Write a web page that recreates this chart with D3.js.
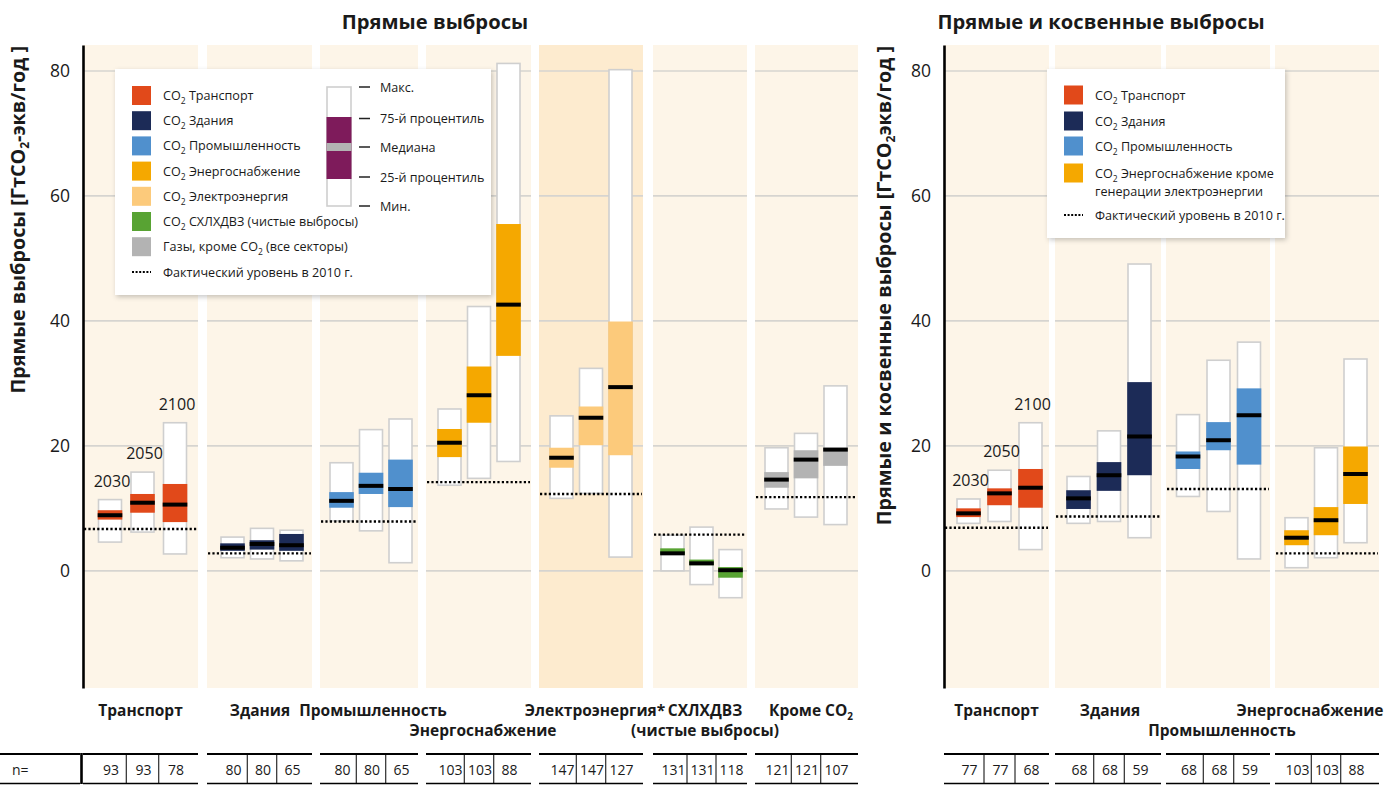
<!DOCTYPE html>
<html>
<head>
<meta charset="utf-8">
<script src="https://cdn.jsdelivr.net/npm/d3@7"></script>
<style>
  body { margin: 0; background: #fff; }
  svg { display: block; }
  text { font-family: "Open Sans", "Noto Sans", sans-serif; fill: #1a1a1a; }
</style>
</head>
<body>
<svg id="chart" width="1396" height="785"></svg>
<script>
// ---------- data ----------
const years = ["2030", "2050", "2100"];
const yTicks = [0, 20, 40, 60, 80];

// Прямые выбросы, ГтCO2-экв/год
const directSectors = ["Транспорт", "Здания", "Промышленность", "Энергоснабжение",
                       "Электроэнергия", "СХЛХДВЗ", "Кроме CO2"];
const directMin = [[4.6, 6.2, 2.7], [2.1, 1.9, 1.6], [8.0, 6.4, 1.3], [13.7, 14.8, 17.5],
                   [11.6, 12.4, 2.2], [0.0, -2.2, -4.3], [9.9, 8.6, 7.4]];
const directQ1 = [[8.2, 9.3, 7.8], [3.2, 3.4, 3.2], [10.1, 12.3, 10.2], [18.2, 23.7, 34.4],
                  [16.5, 20.1, 18.5], [2.6, 0.9, -1.1], [13.3, 14.8, 16.8]];
const directMedian = [[8.9, 10.9, 10.6], [3.7, 4.3, 4.1], [11.2, 13.6, 13.1], [20.5, 28.1, 42.6],
                      [18.1, 24.5, 29.4], [2.8, 1.2, 0.1], [14.6, 17.8, 19.4]];
const directQ3 = [[9.7, 12.3, 13.9], [4.4, 4.9, 5.9], [12.6, 15.7, 17.8], [22.7, 32.7, 55.5],
                  [19.7, 26.3, 39.9], [3.6, 1.8, 0.6], [15.8, 19.3, 19.7]];
const directMax = [[11.4, 15.8, 23.7], [5.4, 6.8, 6.5], [17.3, 22.6, 24.3], [25.9, 42.3, 81.2],
                   [24.8, 32.4, 80.2], [5.7, 7.0, 3.4], [19.7, 22.0, 29.6]];
const direct2010 = [6.7, 2.8, 7.9, 14.2, 12.3, 5.8, 11.8];
const directN = [[93, 93, 78], [80, 80, 65], [80, 80, 65], [103, 103, 88],
                 [147, 147, 127], [131, 131, 118], [121, 121, 107]];

// Прямые и косвенные выбросы
const indirectSectors = ["Транспорт", "Здания", "Промышленность", "Энергоснабжение"];
const indirectMin = [[7.6, 7.9, 3.4], [7.6, 7.9, 5.3], [11.9, 9.5, 1.9], [0.5, 2.1, 4.5]];
const indirectQ1 = [[8.6, 10.5, 10.1], [9.9, 12.8, 15.3], [16.3, 19.3, 17.0], [4.1, 5.7, 10.7]];
const indirectMedian = [[9.2, 12.4, 13.3], [11.6, 15.3, 21.5], [18.3, 20.9, 24.9], [5.3, 8.1, 15.5]];
const indirectQ3 = [[10.0, 13.2, 16.3], [12.9, 17.4, 30.2], [19.1, 23.8, 29.2], [6.5, 10.2, 19.9]];
const indirectMax = [[11.5, 16.1, 23.7], [15.1, 22.4, 49.1], [25.0, 33.7, 36.6], [8.5, 19.7, 33.9]];
const indirect2010 = [6.9, 8.7, 13.1, 2.8];
const indirectN = [[77, 77, 68], [68, 68, 59], [68, 68, 59], [103, 103, 88]];

// ---------- styling & layout ----------
const directColors = ["#e1491a", "#1c2b57", "#5090cd", "#f5a800", "#fcca7b", "#58a333", "#b3b3b3"];
const indirectColors = ["#e1491a", "#1c2b57", "#5090cd", "#f5a800"];

// sub-panel extents (x0..x1), box-group centre and spacing between years
const directLayout = [
  { x0: 83,  x1: 198, c: 142.5, step: 32.5 },
  { x0: 207, x1: 312, c: 262,   step: 29.5 },
  { x0: 320, x1: 418, c: 371,   step: 29.5 },
  { x0: 426, x1: 531, c: 479,   step: 29.5 },
  { x0: 539, x1: 643, c: 591,   step: 29.5, highlight: true },
  { x0: 653, x1: 747, c: 701.5, step: 29 },
  { x0: 755, x1: 858, c: 806,   step: 29.5 }
];
const indirectLayout = [
  { x0: 944,  x1: 1049, c: 999.5,  step: 31 },
  { x0: 1055, x1: 1161, c: 1109,   step: 30.5 },
  { x0: 1166, x1: 1270, c: 1218.5, step: 30.5 },
  { x0: 1275, x1: 1379, c: 1326,   step: 29.5 }
];

// category labels: text segments ([text, isSubscript]), centre x, row
const directLabels = [
  { lines: [[["Транспорт"]]], x: 140.5, row: 0 },
  { lines: [[["Здания"]]], x: 260, row: 0 },
  { lines: [[["Промышленность"]]], x: 373, row: 0 },
  { lines: [[["Энергоснабжение"]]], x: 483, row: 1 },
  { lines: [[["Электроэнергия*"]]], x: 595, row: 0 },
  { lines: [[["СХЛХДВЗ"]], [["(чистые выбросы)"]]], x: 705, row: 0 },
  { lines: [[["Кроме CO"], ["2", true]]], x: 811, row: 0 }
];
const indirectLabels = [
  { lines: [[["Транспорт"]]], x: 996.5, row: 0 },
  { lines: [[["Здания"]]], x: 1110, row: 0 },
  { lines: [[["Промышленность"]]], x: 1222, row: 1 },
  { lines: [[["Энергоснабжение"]]], x: 1310, row: 0 }
];

const panelFill = "#fdf5e8";
const highlightFill = "#fdebcf";
const gridColor = "#d6d4d0";
const boxStroke = "#cfcfcf";

const svg = d3.select("#chart");

const defs = svg.append("defs");
const shadow = defs.append("filter").attr("id", "shadow")
  .attr("x", "-10%").attr("y", "-10%").attr("width", "130%").attr("height", "130%");
shadow.append("feDropShadow").attr("dx", 1.5).attr("dy", 2).attr("stdDeviation", 2.5)
  .attr("flood-color", "#000").attr("flood-opacity", 0.22);

const y = d3.scaleLinear().domain([-18.75, 84.15]).range([688, 45]);

// writes text made of plain and subscript segments
function richText(sel, parts, subSize) {
  let shifted = false;
  parts.forEach(p => {
    const t = sel.append("tspan").text(p[0]);
    if (p[1]) {
      t.attr("font-size", subSize).attr("dy", 4);
      shifted = true;
    } else if (shifted) {
      t.attr("dy", -4);
      shifted = false;
    }
  });
}

function drawGroup(opts) {
  const g = svg.append("g");
  const { sectors, layout, colors, mins, q1s, meds, q3s, maxs, base, ns, labels, axisX } = opts;

  sectors.forEach((s, i) => {
    const L = layout[i];
    const xs = d3.scalePoint().domain(years).range([L.c - L.step, L.c + L.step]);
    const pg = g.append("g");

    pg.append("rect")
      .attr("x", L.x0).attr("y", y.range()[1])
      .attr("width", L.x1 - L.x0).attr("height", y.range()[0] - y.range()[1])
      .attr("fill", L.highlight ? highlightFill : panelFill);

    pg.selectAll("line.grid").data(yTicks).join("line")
      .attr("class", "grid")
      .attr("x1", L.x0).attr("x2", L.x1)
      .attr("y1", d => y(d)).attr("y2", d => y(d))
      .attr("stroke", gridColor).attr("stroke-width", 1.6);

    const bw = 23;
    years.forEach((yr, j) => {
      const cx = xs(yr);
      pg.append("rect")
        .attr("x", cx - bw / 2).attr("width", bw)
        .attr("y", y(maxs[i][j])).attr("height", y(mins[i][j]) - y(maxs[i][j]))
        .attr("fill", "#fff").attr("stroke", boxStroke).attr("stroke-width", 1.6);
      pg.append("rect")
        .attr("x", cx - bw / 2 - 0.8).attr("width", bw + 1.6)
        .attr("y", y(q3s[i][j])).attr("height", y(q1s[i][j]) - y(q3s[i][j]))
        .attr("fill", colors[i]);
    });

    pg.append("line")
      .attr("x1", L.x0 + 1).attr("x2", L.x1 - 1)
      .attr("y1", y(base[i])).attr("y2", y(base[i]))
      .attr("stroke", "#000").attr("stroke-width", 2.4)
      .attr("stroke-dasharray", "2.2,2.2");

    years.forEach((yr, j) => {
      const cx = xs(yr);
      pg.append("line")
        .attr("x1", cx - bw / 2 - 0.8).attr("x2", cx + bw / 2 + 0.8)
        .attr("y1", y(meds[i][j])).attr("y2", y(meds[i][j]))
        .attr("stroke", "#000").attr("stroke-width", 4);
    });

    // year labels over the first sector
    if (i === 0) {
      years.forEach((yr, j) => {
        g.append("text")
          .attr("x", xs(yr) + 2).attr("y", y(maxs[i][j]) - 13)
          .attr("text-anchor", "middle").attr("font-size", 16)
          .text(yr);
      });
    }

    // category label
    const lab = labels[i];
    lab.lines.forEach((line, k) => {
      const t = g.append("text")
        .attr("x", lab.x).attr("y", 716 + (lab.row + k) * 20)
        .attr("text-anchor", "middle").attr("font-size", 15.5).attr("font-weight", 700);
      richText(t, line, 10);
    });

    // n= table
    const tg = g.append("g");
    tg.append("line").attr("x1", L.x0).attr("x2", L.x1).attr("y1", 754).attr("y2", 754)
      .attr("stroke", "#000").attr("stroke-width", 2.2);
    tg.append("line").attr("x1", L.x0).attr("x2", L.x1).attr("y1", 783.5).attr("y2", 783.5)
      .attr("stroke", "#000").attr("stroke-width", 1.6);
    [0, 1].forEach(j => {
      const sx = (xs(years[j]) + xs(years[j + 1])) / 2;
      tg.append("line").attr("x1", sx).attr("x2", sx).attr("y1", 755).attr("y2", 783)
        .attr("stroke", "#000").attr("stroke-width", 1);
    });
    years.forEach((yr, j) => {
      tg.append("text").attr("x", xs(yr) + 1).attr("y", 775)
        .attr("text-anchor", "middle").attr("font-size", 14).text(ns[i][j]);
    });
  });

  // y axis
  const ax = g.append("g").attr("transform", `translate(${axisX},0)`)
    .call(d3.axisLeft(y).tickValues(yTicks).tickSize(0).tickSizeOuter(0).tickPadding(13));
  ax.select(".domain").attr("stroke", "#000").attr("stroke-width", 2.6);
  ax.selectAll(".tick text").attr("font-size", 17.5).attr("font-family", "Open Sans, sans-serif")
    .attr("fill", "#222");
  return g;
}

drawGroup({
  sectors: directSectors, layout: directLayout, colors: directColors,
  mins: directMin, q1s: directQ1, meds: directMedian, q3s: directQ3, maxs: directMax,
  base: direct2010, ns: directN, labels: directLabels, axisX: 83
});
drawGroup({
  sectors: indirectSectors, layout: indirectLayout, colors: indirectColors,
  mins: indirectMin, q1s: indirectQ1, meds: indirectMedian, q3s: indirectQ3, maxs: indirectMax,
  base: indirect2010, ns: indirectN, labels: indirectLabels, axisX: 944
});

// "n=" cell
svg.append("line").attr("x1", 0).attr("x2", 80).attr("y1", 754).attr("y2", 754)
  .attr("stroke", "#000").attr("stroke-width", 2.2);
svg.append("line").attr("x1", 0).attr("x2", 80).attr("y1", 783.5).attr("y2", 783.5)
  .attr("stroke", "#000").attr("stroke-width", 1.6);
svg.append("line").attr("x1", 81.5).attr("x2", 81.5).attr("y1", 753).attr("y2", 784)
  .attr("stroke", "#000").attr("stroke-width", 2.6);
svg.append("text").attr("x", 12).attr("y", 775).attr("font-size", 14).text("n=");

// titles
svg.append("text").attr("x", 435).attr("y", 29).attr("text-anchor", "middle")
  .attr("font-size", 20.2).attr("font-weight", 700).text("Прямые выбросы");
svg.append("text").attr("x", 1101).attr("y", 29).attr("text-anchor", "middle")
  .attr("font-size", 20.2).attr("font-weight", 700).text("Прямые и косвенные выбросы");

// axis titles
const at1 = svg.append("text").attr("transform", "translate(25,46) rotate(-90)")
  .attr("text-anchor", "end").attr("font-size", 19.8).attr("font-weight", 700);
richText(at1, [["Прямые выбросы [ГтCO"], ["2", true], ["-экв/год ]"]], 12);
const at2 = svg.append("text").attr("transform", "translate(891,46) rotate(-90)")
  .attr("text-anchor", "end").attr("font-size", 19.8).attr("font-weight", 700);
richText(at2, [["Прямые и косвенные выбросы [ГтCO"], ["2", true], ["экв/год ]"]], 12);

// ---------- legends ----------
const legendLeft = [
  { color: directColors[0], text: [["CO"], ["2", true], [" Транспорт"]] },
  { color: directColors[1], text: [["CO"], ["2", true], [" Здания"]] },
  { color: directColors[2], text: [["CO"], ["2", true], [" Промышленность"]] },
  { color: directColors[3], text: [["CO"], ["2", true], [" Энергоснабжение"]] },
  { color: directColors[4], text: [["CO"], ["2", true], [" Электроэнергия"]] },
  { color: directColors[5], text: [["CO"], ["2", true], [" СХЛХДВЗ (чистые выбросы)"]] },
  { color: directColors[6], text: [["Газы, кроме CO"], ["2", true], [" (все секторы)"]] }
];
const legendRight = [
  { color: indirectColors[0], text: [["CO"], ["2", true], [" Транспорт"]] },
  { color: indirectColors[1], text: [["CO"], ["2", true], [" Здания"]] },
  { color: indirectColors[2], text: [["CO"], ["2", true], [" Промышленность"]] },
  { color: indirectColors[3], text: [["CO"], ["2", true], [" Энергоснабжение кроме"]],
    extra: "генерации электроэнергии" }
];
const baseLabel = "Фактический уровень в 2010 г.";
const statLabels = ["Макс.", "75-й процентиль", "Медиана", "25-й процентиль", "Мин."];

function legendRow(g, x, yc, item) {
  g.append("rect").attr("x", x).attr("y", yc - 9.5).attr("width", 19).attr("height", 19)
    .attr("fill", item.color);
  const t = g.append("text").attr("x", x + 31).attr("y", yc + 4.5).attr("font-size", 12.6);
  richText(t, item.text, 8.5);
  if (item.extra) {
    g.append("text").attr("x", x + 31).attr("y", yc + 22.5).attr("font-size", 12.6).text(item.extra);
  }
}
function baseRow(g, x, yc) {
  g.append("line").attr("x1", x).attr("x2", x + 19).attr("y1", yc).attr("y2", yc)
    .attr("stroke", "#000").attr("stroke-width", 2.2).attr("stroke-dasharray", "2,1.6");
  g.append("text").attr("x", x + 31).attr("y", yc + 4.5).attr("font-size", 12.6).text(baseLabel);
}

const lg = svg.append("g");
lg.append("rect").attr("x", 115).attr("y", 69).attr("width", 376).attr("height", 226)
  .attr("fill", "#fff").attr("filter", "url(#shadow)");
legendLeft.forEach((it, k) => legendRow(lg, 132, 95.5 + k * 25.2, it));
baseRow(lg, 132, 272);

// box key
lg.append("rect").attr("x", 327).attr("y", 87).attr("width", 24).attr("height", 119)
  .attr("fill", "#fff").attr("stroke", boxStroke).attr("stroke-width", 1.6);
lg.append("rect").attr("x", 326.5).attr("y", 117).attr("width", 25).attr("height", 62)
  .attr("fill", "#7e1b5b");
lg.append("rect").attr("x", 326.5).attr("y", 143).attr("width", 25).attr("height", 8)
  .attr("fill", "#b3b3b3");
const statYs = [87, 118.5, 147, 177, 206];
statLabels.forEach((s, k) => {
  lg.append("line").attr("x1", 359).attr("x2", 370).attr("y1", statYs[k]).attr("y2", statYs[k])
    .attr("stroke", "#222").attr("stroke-width", 1.5);
  lg.append("text").attr("x", 380).attr("y", statYs[k] + 4.5).attr("font-size", 12.6).text(s);
});

const rg = svg.append("g");
rg.append("rect").attr("x", 1047).attr("y", 69).attr("width", 238).attr("height", 169)
  .attr("fill", "#fff").attr("filter", "url(#shadow)");
[95, 121, 146, 173].forEach((yc, k) => legendRow(rg, 1064, yc, legendRight[k]));
baseRow(rg, 1064, 215);
</script>
</body>
</html>
